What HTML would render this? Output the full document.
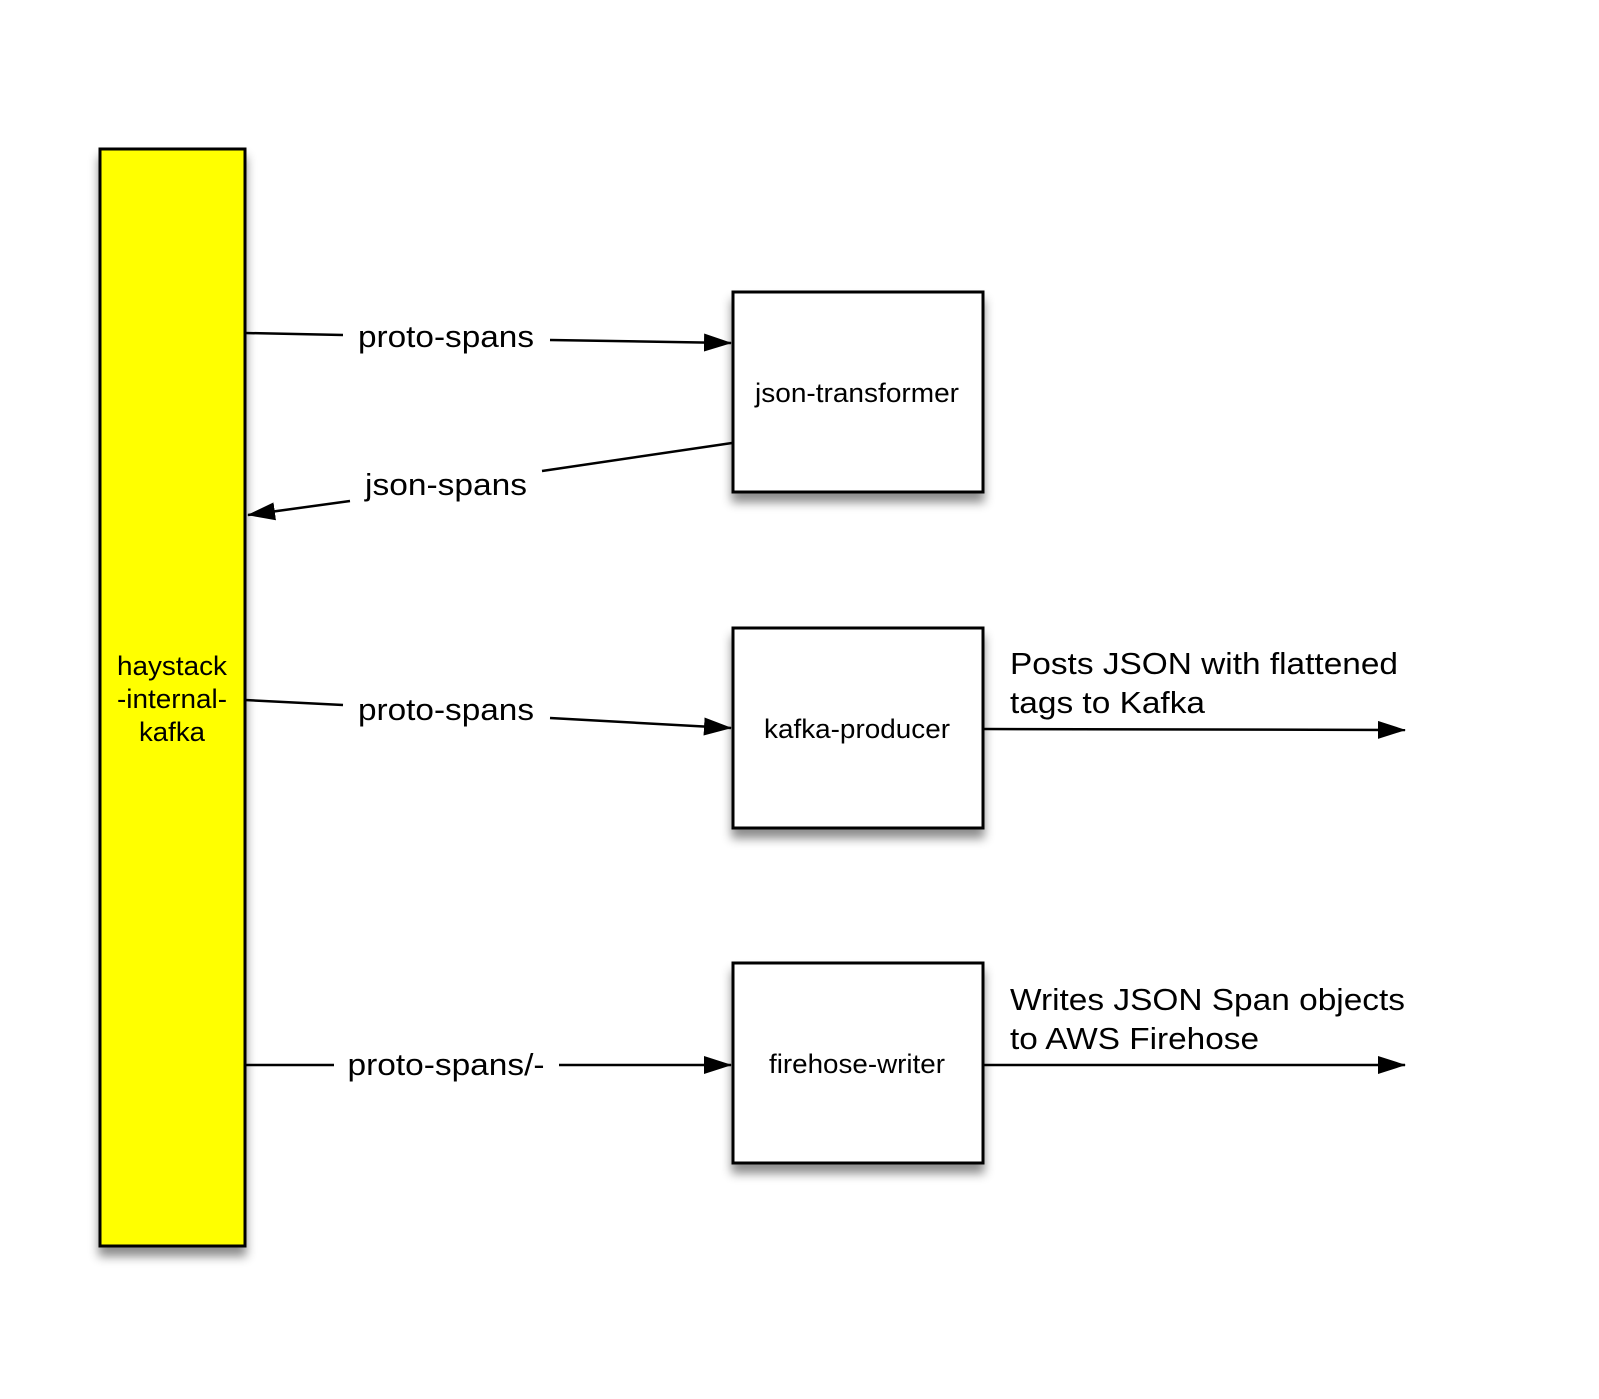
<!DOCTYPE html>
<html><head><meta charset="utf-8"><style>html,body{margin:0;padding:0;background:#fff}svg{display:block}</style></head>
<body>
<svg width="1599" height="1399" viewBox="0 0 1599 1399" xmlns="http://www.w3.org/2000/svg" font-family="Liberation Sans, sans-serif">
<defs>
<filter id="sh" x="-20%" y="-20%" width="140%" height="140%"><feDropShadow dx="0" dy="9" stdDeviation="5" flood-color="#000" flood-opacity="0.45"/></filter>
<marker id="ar" markerWidth="28" markerHeight="18" refX="27" refY="9" orient="auto" markerUnits="userSpaceOnUse"><path d="M0,0 L28,9 L0,18 z" fill="#000"/></marker>
</defs>
<rect x="100" y="149" width="145" height="1097" fill="#ffff00" stroke="#000" stroke-width="3" filter="url(#sh)"/>
<rect x="733" y="292" width="250" height="200" fill="#fff" stroke="#000" stroke-width="3" filter="url(#sh)"/>
<rect x="733" y="628" width="250" height="200" fill="#fff" stroke="#000" stroke-width="3" filter="url(#sh)"/>
<rect x="733" y="963" width="250" height="200" fill="#fff" stroke="#000" stroke-width="3" filter="url(#sh)"/>

<g font-size="27" text-anchor="middle" fill="#000">
<text x="172" y="675" textLength="110" lengthAdjust="spacingAndGlyphs">haystack</text>
<text x="172" y="708" textLength="110" lengthAdjust="spacingAndGlyphs">-internal-</text>
<text x="172" y="741" textLength="66" lengthAdjust="spacingAndGlyphs">kafka</text>
<text x="857" y="402" textLength="204" lengthAdjust="spacingAndGlyphs">json-transformer</text>
<text x="857" y="738" textLength="186" lengthAdjust="spacingAndGlyphs">kafka-producer</text>
<text x="857" y="1073" textLength="176" lengthAdjust="spacingAndGlyphs">firehose-writer</text>
</g>

<g stroke="#000" stroke-width="2.5" fill="none">
<line x1="245" y1="333" x2="343" y2="335"/>
<line x1="550" y1="340" x2="731" y2="343" marker-end="url(#ar)"/>
<line x1="732" y1="443" x2="542" y2="471"/>
<line x1="350" y1="501" x2="248" y2="515" marker-end="url(#ar)"/>
<line x1="245" y1="700" x2="343" y2="705"/>
<line x1="550" y1="718" x2="731" y2="728" marker-end="url(#ar)"/>
<line x1="245" y1="1065" x2="334" y2="1065"/>
<line x1="559" y1="1065" x2="731" y2="1065" marker-end="url(#ar)"/>
<line x1="983" y1="729" x2="1405" y2="730" marker-end="url(#ar)"/>
<line x1="983" y1="1065" x2="1405" y2="1065" marker-end="url(#ar)"/>
</g>

<g font-size="31" text-anchor="middle" fill="#000">
<text x="446" y="347" textLength="176" lengthAdjust="spacingAndGlyphs">proto-spans</text>
<text x="446" y="495" textLength="162" lengthAdjust="spacingAndGlyphs">json-spans</text>
<text x="446" y="720" textLength="176" lengthAdjust="spacingAndGlyphs">proto-spans</text>
<text x="446" y="1075" textLength="197" lengthAdjust="spacingAndGlyphs">proto-spans/-</text>
</g>
<g font-size="31" fill="#000">
<text x="1010" y="674" textLength="388" lengthAdjust="spacingAndGlyphs">Posts JSON with flattened</text>
<text x="1010" y="713" textLength="195" lengthAdjust="spacingAndGlyphs">tags to Kafka</text>
<text x="1010" y="1010" textLength="395" lengthAdjust="spacingAndGlyphs">Writes JSON Span objects</text>
<text x="1010" y="1049" textLength="249" lengthAdjust="spacingAndGlyphs">to AWS Firehose</text>
</g>
</svg>
</body></html>
